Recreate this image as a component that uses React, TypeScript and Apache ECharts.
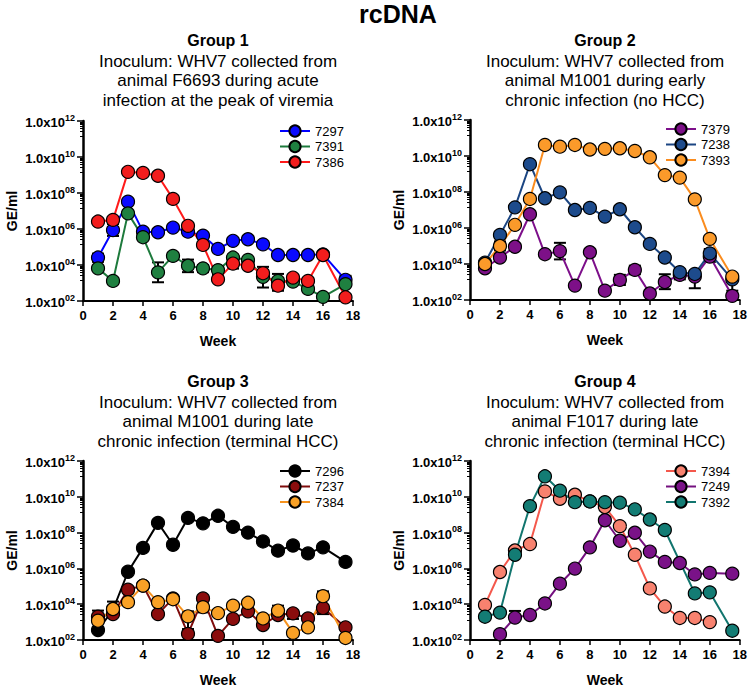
import React, { useEffect, useRef } from "react";
import * as echarts from "echarts";

// ---------- data (GE/ml) ----------
const weeksAll = [1, 2, 3, 4, 5, 6, 7, 8, 9, 10, 11, 12, 13, 14, 15, 16, 17.5];
const yTickExponents = ["02", "04", "06", "08", "10", "12"];

// Group 1
const g1_7297 = [2.6e4, 8.7e5, 3.3e7, 7.1e5, 6.6e5, 1.2e6, 7.1e5, 4.3e5, 7.8e4, 2.2e5, 2.7e5, 1.4e5, 3.6e4, 3.6e4, 3.6e4, 3.9e4, 1.5e3];
const g1_7391 = [6.5e3, 1.3e3, 7.4e6, 3.5e5, 3.9e3, 3.2e4, 9.1e3, 6.5e3, 5.2e3, 2.6e4, 1.9e4, 2.2e3, 1.3e3, 1.2e3, 4.7e2, 1.7e2, 8.7e2];
const g1_7386 = [2.6e6, 3.2e6, 1.5e9, 1.3e9, 9.1e8, 4.7e7, 1.5e6, 1.3e5, 1.6e3, 1.2e4, 9.1e3, 3.5e3, 7.1e2, 2.0e3, 1.3e3, 3.6e4, 1.6e2];
const g1_err = [
  [1, 1.5e4, 4.3e4], [2, 4.1e5, 1.9e6], [5, 1.1e3, 1.4e4], [7, 4.0e3, 2.0e4],
  [8, 4.0e3, 1.0e4], [9, 1.6e3, 2.8e3], [10, 6.3e3, 2.5e4], [11, 8.0e3, 1.3e4],
  [12, 5.6e2, 7.9e3], [13, 3.7e2, 3.2e3], [14, 1.2e3, 2.8e3], [17.5, 1.5e3, 2.5e3],
];

// Group 2
const g2_7379 = [5.8e3, 2.3e4, 9.1e4, 5.8e6, 3.5e4, 5.2e4, 6.3e2, 4.5e4, 3.3e2, 1.3e3, 4.7e3, 2.3e2, 1.0e3, 2.5e3, 2.0e3, 2.6e4, 1.7e2];
const g2_7238 = [1.2e4, 4.1e5, 1.4e7, 3.5e9, 4.5e7, 9.5e7, 1.0e7, 1.3e7, 4.3e6, 1.1e7, 1.1e6, 1.3e5, 2.3e4, 3.5e3, 2.8e3, 3.9e4, 1.4e3];
const g2_7393 = [1.0e4, 1.0e5, 1.5e6, 4.1e7, 4.1e10, 3.3e10, 4.1e10, 2.3e10, 2.5e10, 2.7e10, 1.9e10, 8.5e9, 8.7e8, 6.3e8, 3.9e7, 2.5e5, 2.0e3];
const g2_err = [
  [2, 5.6e4, 1.8e5], [6, 1.8e4, 1.5e5], [10, 6.8e2, 2.5e3], [11, 2.7e3, 8.1e3],
  [13, 4.0e2, 2.7e3], [14, 1.4e3, 4.1e3], [15, 4.5e2, 3.3e3], [16, 1.3e4, 6.8e4],
  [17.5, 3.3e2, 2.5e3],
];

// Group 3
const g3_7296 = [3.6e2, 4.9e3, 6.5e5, 1.4e7, 3.5e8, 2.1e7, 6.6e8, 3.3e8, 8.7e8, 2.1e8, 1.0e8, 3.2e7, 9.8e6, 1.9e7, 6.9e6, 1.5e7, 2.3e6];
const g3_7237 = [2.0e3, 2.8e3, 6.5e4, 1.1e5, 2.8e3, 2.1e4, 2.2e2, 2.1e4, 1.7e2, 1.5e3, 4.0e3, 6.9e2, 2.5e3, 3.1e3, 1.6e3, 6.2e3, 5.1e2];
const g3_7384 = [1.2e3, 5.4e3, 1.3e4, 1.1e5, 1.3e4, 1.9e4, 2.1e3, 6.8e3, 3.2e3, 8.3e3, 1.2e4, 1.6e3, 4.4e3, 2.5e2, 5.1e2, 2.8e4, 1.3e2];
const g3_err = [
  [1, 3.2e2, 4.4e3], [2, 2.5e3, 1.4e4], [7, 4.1e2, 4.0e3], [8, 3.5e3, 2.1e4],
  [10, 1.5e3, 1.1e4], [13, 2.5e3, 8.3e3], [14, 1.5e3, 3.1e3], [15, 3.3e2, 1.6e3],
  [16, 2.8e3, 5.2e4], [17.5, 1.3e2, 5.1e2],
];

// Group 4
const weeks_7394 = [1, 2, 3, 4, 5, 6, 7, 8, 9, 10, 11, 12, 13, 14, 15, 16];
const g4_7394 = [9.1e3, 6.3e5, 1.0e7, 2.3e7, 2.0e10, 7.8e9, 1.3e10, 5.5e9, 2.7e9, 2.3e8, 5.8e6, 7.6e4, 7.4e3, 1.7e3, 1.7e3, 1.0e3];
const weeks_7249 = [2, 3, 4, 5, 6, 7, 8, 9, 10, 11, 12, 13, 14, 15, 16, 17.5];
const g4_7249 = [2.1e2, 1.8e3, 2.5e3, 1.1e4, 1.4e5, 9.8e5, 1.5e7, 4.9e8, 3.5e7, 9.8e7, 8.7e6, 2.3e6, 2.0e6, 4.6e5, 5.6e5, 5.1e5];
const weeks_7392 = [1, 2, 3, 4, 5, 6, 7, 8, 9, 10, 11, 12, 13, 15, 16, 17.5];
const g4_7392 = [2.0e3, 3.4e3, 5.8e6, 3.0e9, 1.4e11, 2.2e10, 5.0e9, 5.5e9, 5.0e9, 4.7e9, 2.0e9, 5.4e8, 1.4e8, 4.0e4, 4.6e4, 3.3e2];
const g4_err = [
  [1, 5.9e3, 9.1e3], [2, 4.6e5, 6.3e5], [3, 1.8e3, 4.2e3],
];

const groupTitles = ["Group 1", "Group 2", "Group 3", "Group 4"];
const groupSubtitles = [
  ["Inoculum: WHV7 collected from", "animal F6693 during acute", "infection at the peak of viremia"],
  ["Inoculum: WHV7 collected from", "animal M1001 during early", "chronic infection (no HCC)"],
  ["Inoculum: WHV7 collected from", "animal M1001 during late", "chronic infection (terminal HCC)"],
  ["Inoculum: WHV7 collected from", "animal F1017 during late", "chronic infection (terminal HCC)"],
];

const FONT = "'Liberation Sans', Arial, Helvetica, sans-serif";

const pair = (ws: number[], vs: number[]) => ws.map((w, i) => [w, vs[i]]);

export default function App() {
  const ref = useRef<HTMLDivElement>(null);

  useEffect(() => {
    if (!ref.current) return;
    const chart = echarts.init(ref.current, undefined, { renderer: "svg" });

    const grids = [
      { left: 83, top: 121, width: 270, height: 180 },
      { left: 470, top: 120, width: 270, height: 180 },
      { left: 83, top: 461, width: 270, height: 180 },
      { left: 470, top: 461, width: 270, height: 180 },
    ];
    const centers = [218, 605, 218, 605];
    const titleY = [40, 40, 381, 381];

    const xAxes = grids.map((_, i) => ({
      type: "value",
      gridIndex: i,
      min: 0,
      max: 18,
      interval: 2,
      name: "Week",
      nameLocation: "middle",
      nameGap: 33,
      nameTextStyle: { color: "#000", fontWeight: "bold", fontSize: 14, fontFamily: FONT },
      axisLine: { show: true, onZero: false, lineStyle: { color: "#000", width: 2 } },
      axisTick: { show: true, length: 5, lineStyle: { color: "#000", width: 1.5 } },
      axisLabel: { color: "#000", fontWeight: "bold", fontSize: 13, fontFamily: FONT, margin: 8 },
      splitLine: { show: false },
    }));

    const yAxes = grids.map((_, i) => ({
      type: "log",
      logBase: 10,
      gridIndex: i,
      min: 100,
      max: 1e12,
      interval: 2,
      name: "GE/ml",
      nameLocation: "middle",
      nameGap: 64,
      nameTextStyle: { color: "#000", fontWeight: "bold", fontSize: 14, fontFamily: FONT },
      axisLine: { show: true, onZero: false, lineStyle: { color: "#000", width: 2.5 } },
      axisTick: { show: true, length: 6, lineStyle: { color: "#000", width: 1.5 } },
      minorTick: { show: true, splitNumber: 8, length: 3, lineStyle: { color: "#000", width: 1 } },
      splitLine: { show: false },
      axisLabel: {
        margin: 8,
        formatter: (v: number) => {
          const e = Math.round(Math.log10(v));
          const sup = yTickExponents.find((s) => parseInt(s, 10) === e);
          if (!sup) return "";
          return `{a|1.0x10}{b|${sup}}`;
        },
        rich: {
          a: { color: "#000", fontWeight: "bold", fontSize: 13, fontFamily: FONT, lineHeight: 16, verticalAlign: "bottom" },
          b: { color: "#000", fontWeight: "bold", fontSize: 9, fontFamily: FONT, lineHeight: 9, verticalAlign: "top" },
        },
      },
    }));

    const lineSeries = (name: string, data: number[][], idx: number, line: string, fill: string) => ({
      type: "line",
      name,
      data,
      xAxisIndex: idx,
      yAxisIndex: idx,
      symbol: "circle",
      symbolSize: 13,
      z: 3,
      lineStyle: { color: line, width: 2 },
      itemStyle: { color: fill, borderColor: "#000", borderWidth: 1.2 },
      emphasis: { disabled: true },
    });

    const errSeries = (data: number[][], idx: number) => ({
      type: "custom",
      xAxisIndex: idx,
      yAxisIndex: idx,
      data,
      z: 1,
      encode: { x: 0, y: [1, 2] },
      renderItem: (params: any, api: any) => {
        const x = api.value(0);
        const p1 = api.coord([x, api.value(1)]);
        const p2 = api.coord([x, api.value(2)]);
        const hw = 6;
        const st = { stroke: "#000", lineWidth: 2 };
        return {
          type: "group",
          children: [
            { type: "line", shape: { x1: p1[0], y1: p1[1], x2: p2[0], y2: p2[1] }, style: st },
            { type: "line", shape: { x1: p1[0] - hw, y1: p1[1], x2: p1[0] + hw, y2: p1[1] }, style: st },
            { type: "line", shape: { x1: p2[0] - hw, y1: p2[1], x2: p2[0] + hw, y2: p2[1] }, style: st },
          ],
        };
      },
    });

    const series = [
      errSeries(g1_err, 0),
      lineSeries("7297", pair(weeksAll, g1_7297), 0, "#0000ff", "#0a0aff"),
      lineSeries("7391", pair(weeksAll, g1_7391), 0, "#1d7a3c", "#1f8040"),
      lineSeries("7386", pair(weeksAll, g1_7386), 0, "#ff1a1a", "#f21d1d"),
      errSeries(g2_err, 1),
      lineSeries("7379", pair(weeksAll, g2_7379), 1, "#7d0f8a", "#7d1088"),
      lineSeries("7238", pair(weeksAll, g2_7238), 1, "#1b4582", "#1d4b8c"),
      lineSeries("7393", pair(weeksAll, g2_7393), 1, "#fa8c1e", "#fb9a2a"),
      errSeries(g3_err, 2),
      lineSeries("7296", pair(weeksAll, g3_7296), 2, "#000000", "#000000"),
      lineSeries("7237", pair(weeksAll, g3_7237), 2, "#7f0c0c", "#8b0d0d"),
      lineSeries("7384", pair(weeksAll, g3_7384), 2, "#f7931e", "#f9a126"),
      errSeries(g4_err, 3),
      lineSeries("7394", pair(weeks_7394, g4_7394), 3, "#f4584c", "#f8826f"),
      lineSeries("7249", pair(weeks_7249, g4_7249), 3, "#74107f", "#7a1288"),
      lineSeries("7392", pair(weeks_7392, g4_7392), 3, "#11756e", "#137c74"),
    ];

    const legendPos = [
      { left: 279, top: 124, data: ["7297", "7391", "7386"] },
      { left: 665, top: 122, data: ["7379", "7238", "7393"] },
      { left: 279, top: 464, data: ["7296", "7237", "7384"] },
      { left: 665, top: 464, data: ["7394", "7249", "7392"] },
    ];
    const legends = legendPos.map((l) => ({
      ...l,
      orient: "vertical",
      padding: 0,
      itemWidth: 30,
      itemHeight: 14,
      itemGap: 1.5,
      selectedMode: false,
      textStyle: { color: "#000", fontSize: 13, lineHeight: 14, fontFamily: FONT },
    }));

    const graphics: any[] = [
      {
        type: "text",
        x: 398,
        y: 14,
        style: { text: "rcDNA", font: `bold 25px ${FONT}`, fill: "#000", textAlign: "center", textVerticalAlign: "middle" },
      },
    ];
    groupTitles.forEach((t, i) => {
      graphics.push({
        type: "text",
        x: centers[i],
        y: titleY[i],
        style: { text: t, font: `bold 16px ${FONT}`, fill: "#000", textAlign: "center", textVerticalAlign: "middle" },
      });
      groupSubtitles[i].forEach((s, j) => {
        graphics.push({
          type: "text",
          x: centers[i],
          y: titleY[i] + 21 + j * 19.7,
          style: { text: s, font: `17px ${FONT}`, fill: "#000", textAlign: "center", textVerticalAlign: "middle" },
        });
      });
    });

    chart.setOption({
      animation: false,
      backgroundColor: "#ffffff",
      textStyle: { fontFamily: FONT },
      grid: grids,
      xAxis: xAxes,
      yAxis: yAxes,
      legend: legends,
      series,
      graphic: graphics,
    } as any);

    return () => chart.dispose();
  }, []);

  return <div ref={ref} style={{ position: "absolute", left: 0, top: 0, width: 750, height: 688 }} />;
}
